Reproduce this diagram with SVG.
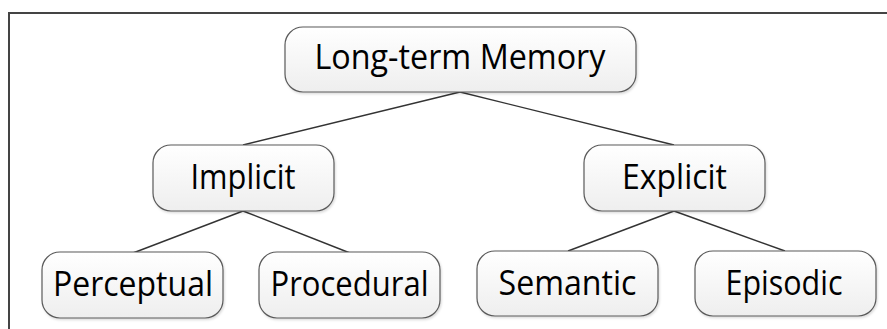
<svg xmlns="http://www.w3.org/2000/svg" width="887" height="329" viewBox="0 0 887 329">
  <style>
    .box { fill: url(#boxFill); stroke: #5a5a5a; stroke-width: 1.2; filter: url(#shadow); }
    .label { font-family: "Open Sans", "Liberation Sans", sans-serif; font-size: 34px; fill: #000; text-anchor: middle; }
    .link { stroke: #333; stroke-width: 1.4; fill: none; }
  </style>
  <defs>
    <linearGradient id="boxFill" x1="0" y1="0" x2="0" y2="1">
      <stop offset="0" stop-color="#ffffff"/>
      <stop offset="1" stop-color="#eeeeee"/>
    </linearGradient>
    <filter id="shadow" x="-10%" y="-10%" width="120%" height="130%">
      <feDropShadow dx="1" dy="1.5" stdDeviation="1" flood-color="#000" flood-opacity="0.15"/>
    </filter>
  </defs>

  <rect width="887" height="329" fill="#ffffff"/>
  <!-- outer frame -->
  <path d="M9,330 V13 H888" fill="none" stroke="#444" stroke-width="2"/>

  <g id="connectors">
    <line class="link" x1="460" y1="92" x2="243" y2="145"/>
    <line class="link" x1="460" y1="92" x2="674" y2="145"/>
    <line class="link" x1="243" y1="211" x2="133" y2="253"/>
    <line class="link" x1="243" y1="211" x2="350" y2="253"/>
    <line class="link" x1="674" y1="211" x2="568" y2="251"/>
    <line class="link" x1="674" y1="211" x2="785" y2="251"/>
  </g>

  <g id="long-term-memory">
    <rect class="box" x="285" y="27" width="351" height="65" rx="18"/>
    <text class="label" x="460" y="69" textLength="291" lengthAdjust="spacingAndGlyphs">Long-term Memory</text>
  </g>
  <g id="implicit">
    <rect class="box" x="153" y="145" width="181" height="66" rx="18"/>
    <text class="label" x="243" y="189" textLength="105" lengthAdjust="spacingAndGlyphs">Implicit</text>
  </g>
  <g id="explicit">
    <rect class="box" x="584" y="145" width="181" height="66" rx="18"/>
    <text class="label" x="674.5" y="189" textLength="105" lengthAdjust="spacingAndGlyphs">Explicit</text>
  </g>
  <g id="perceptual">
    <rect class="box" x="42" y="252" width="181" height="66" rx="18"/>
    <text class="label" x="133" y="296" textLength="160" lengthAdjust="spacingAndGlyphs">Perceptual</text>
  </g>
  <g id="procedural">
    <rect class="box" x="259" y="252" width="181" height="66" rx="18"/>
    <text class="label" x="349.5" y="296" textLength="158" lengthAdjust="spacingAndGlyphs">Procedural</text>
  </g>
  <g id="semantic">
    <rect class="box" x="477" y="251" width="181" height="65" rx="18"/>
    <text class="label" x="567.5" y="295" textLength="138" lengthAdjust="spacingAndGlyphs">Semantic</text>
  </g>
  <g id="episodic">
    <rect class="box" x="695" y="251" width="181" height="65" rx="18"/>
    <text class="label" x="784" y="295" textLength="117" lengthAdjust="spacingAndGlyphs">Episodic</text>
  </g>
</svg>
